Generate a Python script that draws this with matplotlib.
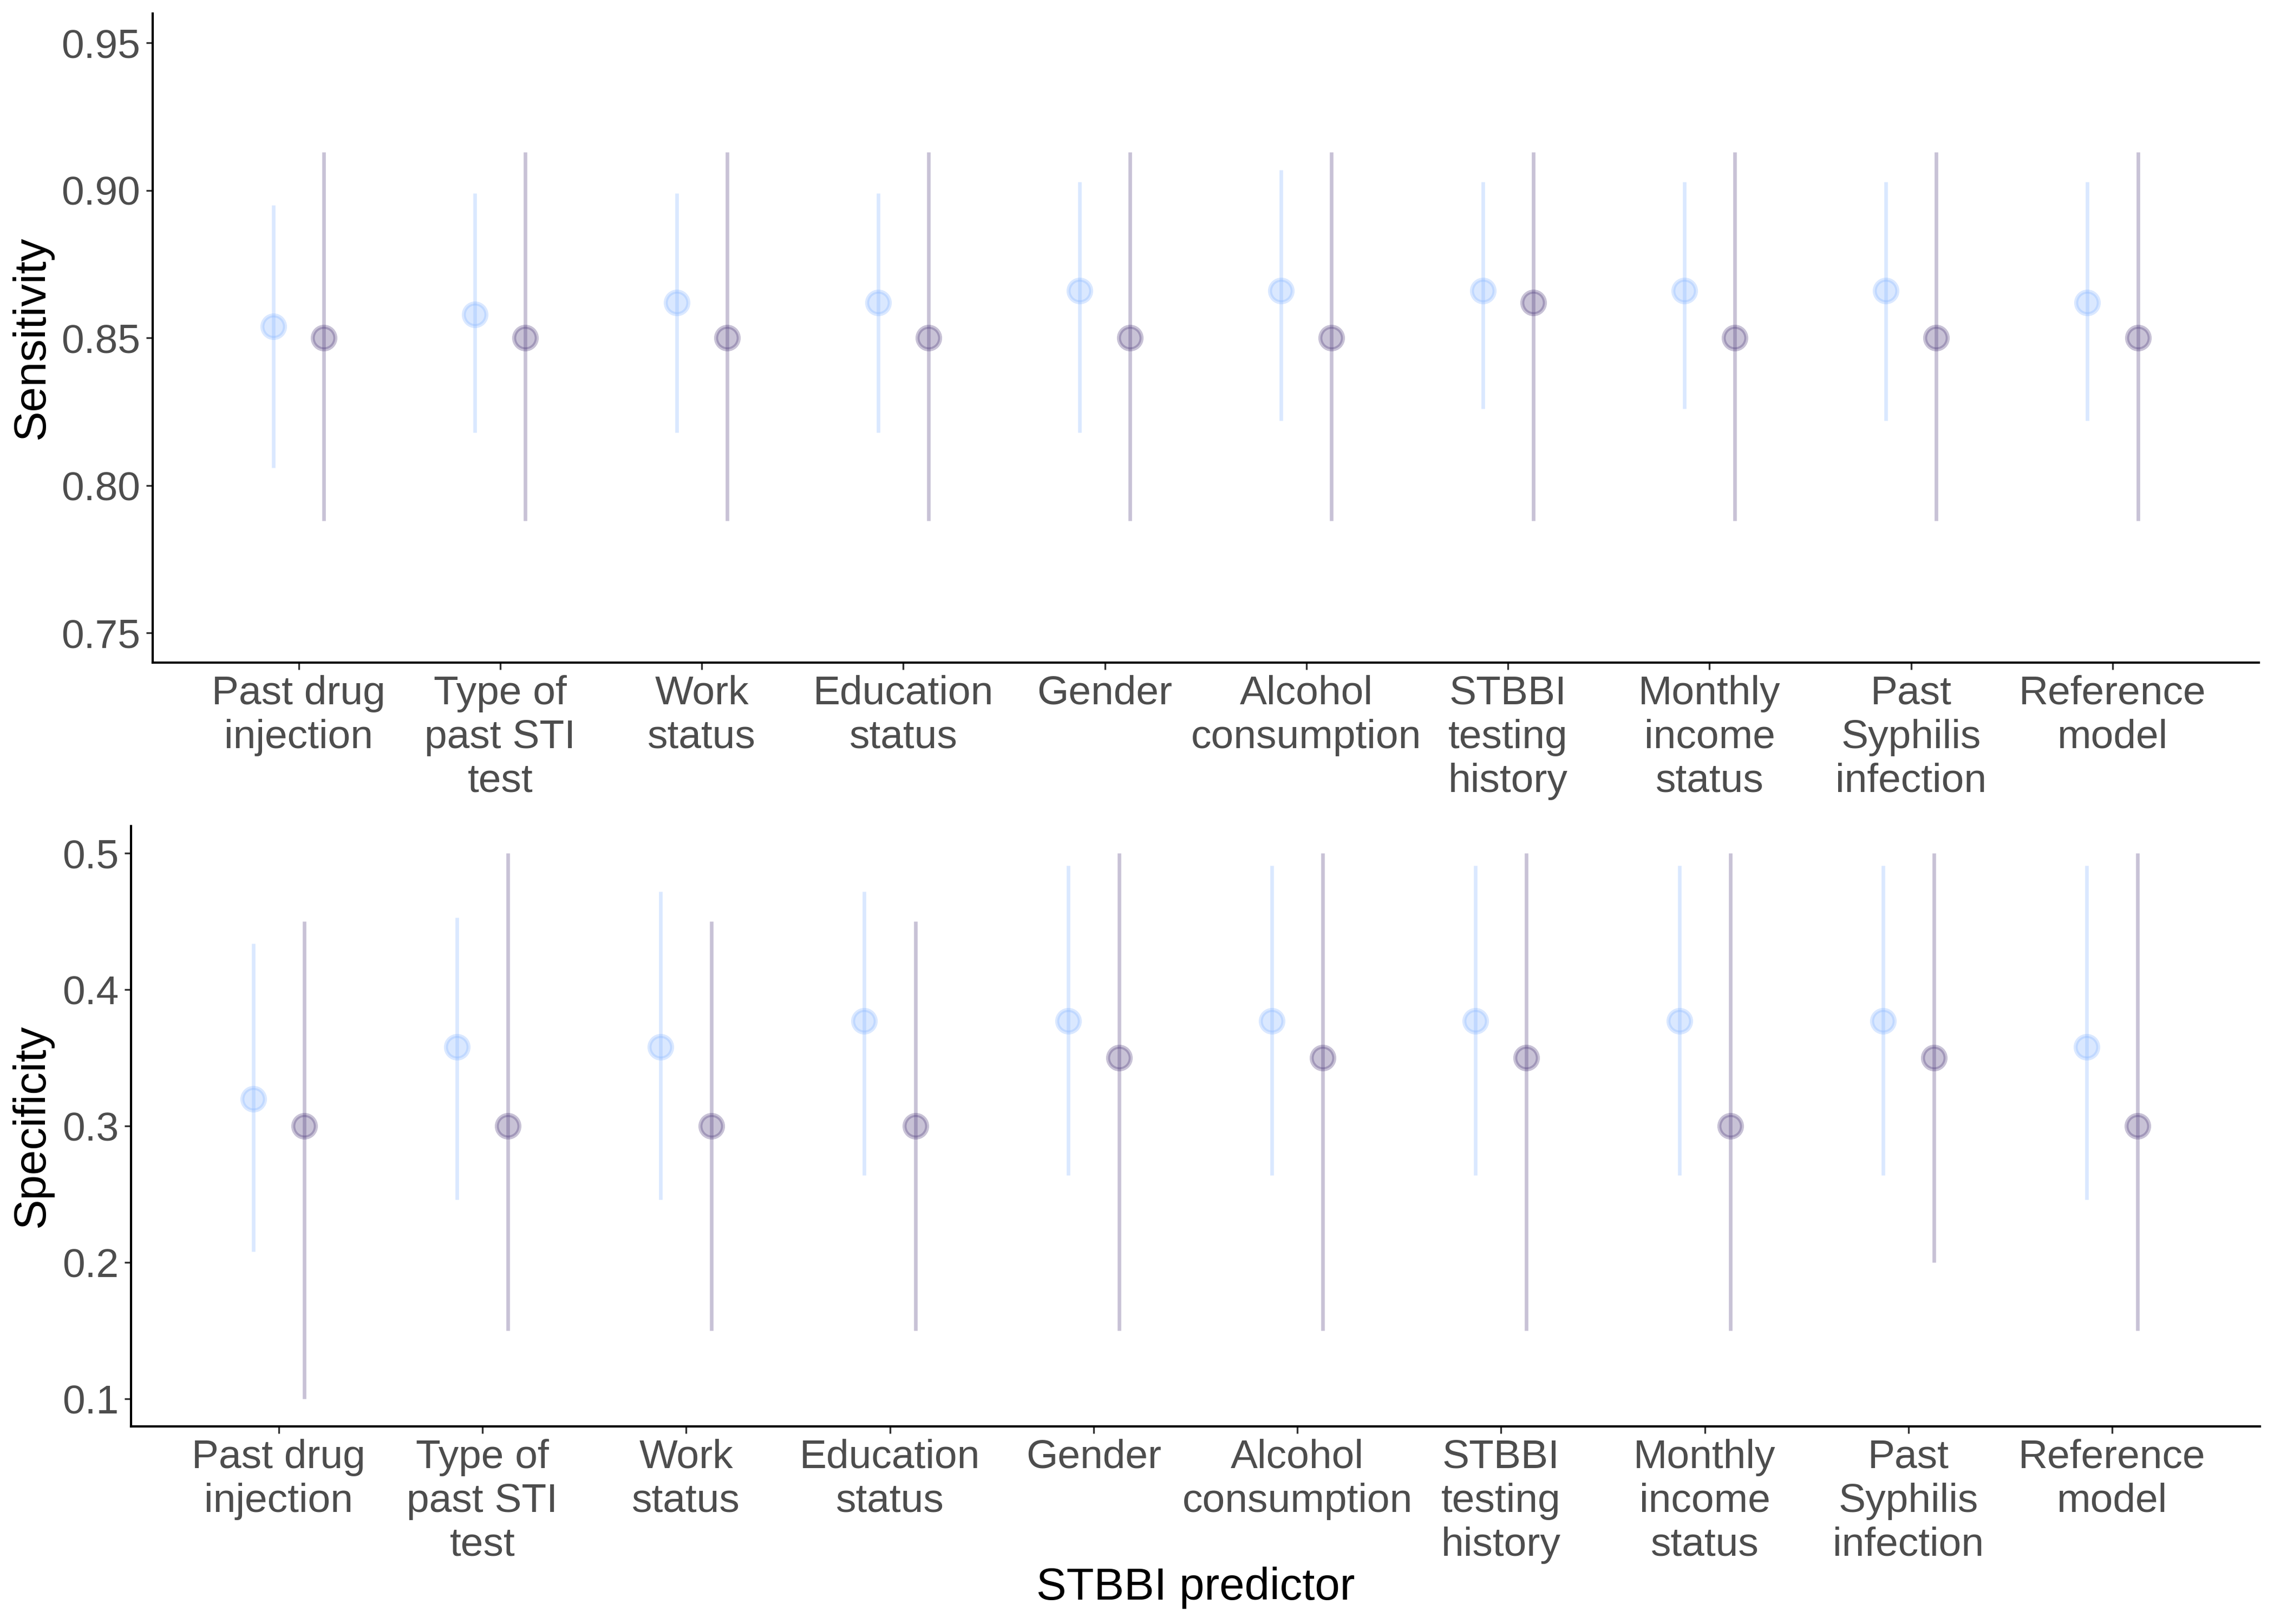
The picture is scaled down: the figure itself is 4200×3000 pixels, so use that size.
import numpy as np
import matplotlib
matplotlib.use("Agg")
import matplotlib.pyplot as plt
from matplotlib.ticker import FixedLocator, FormatStrFormatter

plt.rcParams['font.family'] = ['Liberation Sans', 'DejaVu Sans']

categories = ["Past drug\ninjection", "Type of\npast STI\ntest", "Work\nstatus",
              "Education\nstatus", "Gender", "Alcohol\nconsumption",
              "STBBI\ntesting\nhistory", "Monthly\nincome\nstatus",
              "Past\nSyphilis\ninfection", "Reference\nmodel"]

# Sensitivity - series A (light blue)
sens_a = [0.854, 0.858, 0.862, 0.862, 0.866, 0.866, 0.866, 0.866, 0.866, 0.862]
sens_a_lo = [0.806, 0.818, 0.818, 0.818, 0.818, 0.822, 0.826, 0.826, 0.822, 0.822]
sens_a_hi = [0.895, 0.899, 0.899, 0.899, 0.903, 0.907, 0.903, 0.903, 0.903, 0.903]
# Sensitivity - series B (purple)
sens_b = [0.850, 0.850, 0.850, 0.850, 0.850, 0.850, 0.862, 0.850, 0.850, 0.850]
sens_b_lo = [0.788] * 10
sens_b_hi = [0.913] * 10

# Specificity - series A (light blue)
spec_a = [0.320, 0.358, 0.358, 0.377, 0.377, 0.377, 0.377, 0.377, 0.377, 0.358]
spec_a_lo = [0.208, 0.246, 0.246, 0.264, 0.264, 0.264, 0.264, 0.264, 0.264, 0.246]
spec_a_hi = [0.434, 0.453, 0.472, 0.472, 0.491, 0.491, 0.491, 0.491, 0.491, 0.491]
# Specificity - series B (purple)
spec_b = [0.30, 0.30, 0.30, 0.30, 0.35, 0.35, 0.35, 0.30, 0.35, 0.30]
spec_b_lo = [0.10, 0.15, 0.15, 0.15, 0.15, 0.15, 0.15, 0.15, 0.20, 0.15]
spec_b_hi = [0.45, 0.50, 0.45, 0.45, 0.50, 0.50, 0.50, 0.50, 0.50, 0.50]

sens_ticks = [0.75, 0.80, 0.85, 0.90, 0.95]
spec_ticks = [0.1, 0.2, 0.3, 0.4, 0.5]

col_a = "#87b5ff"
col_b = "#4a3578"
alpha = 0.3
dodge = 0.125

fig = plt.figure(figsize=(14, 10), dpi=300)
pos1 = [0.0671, 0.592, 0.9262, 0.3997]
pos2 = [0.0576, 0.1217, 0.9362, 0.3697]
ax1 = fig.add_axes(pos1)
ax2 = fig.add_axes(pos2)

def panel(ax, pos, a, alo, ahi, b, blo, bhi, ylim, ticks, fmt, ylabel):
    x = np.arange(1, len(categories) + 1)
    for xs, v, lo, hi, c in [(x - dodge, a, alo, ahi, col_a), (x + dodge, b, blo, bhi, col_b)]:
        ax.vlines(xs, lo, hi, colors=c, alpha=alpha, linewidth=1.6)
        ax.plot(xs, v, linestyle='none', marker='o', markersize=10,
                markerfacecolor=c, markeredgecolor=c, markeredgewidth=1.8, alpha=alpha)
    ax.set_xlim(1 - 0.725, len(categories) + 0.725)
    ax.set_ylim(*ylim)
    ax.set_xticks(x)
    ax.set_xticklabels(categories, fontsize=18, color="#4d4d4d", linespacing=1.22)
    ax.yaxis.set_major_locator(FixedLocator(ticks))
    ax.yaxis.set_major_formatter(FormatStrFormatter(fmt))
    ax.tick_params(axis='both', length=3, width=0.8, color="#333333", pad=2.5)
    ax.tick_params(axis='y', labelsize=18, labelcolor="#4d4d4d")
    for s in ['top', 'right']:
        ax.spines[s].set_visible(False)
    for s in ['left', 'bottom']:
        ax.spines[s].set_linewidth(1.0)
        ax.spines[s].set_color("black")
    ax.set_ylabel(ylabel, fontsize=20, color="black")
    ax.yaxis.set_label_coords(0.014, pos[1] + pos[3] / 2, transform=fig.transFigure)
    ax.yaxis.label.set_verticalalignment('center')

panel(ax1, pos1, sens_a, sens_a_lo, sens_a_hi, sens_b, sens_b_lo, sens_b_hi,
      (0.74, 0.96), sens_ticks, '%.2f', "Sensitivity")
panel(ax2, pos2, spec_a, spec_a_lo, spec_a_hi, spec_b, spec_b_lo, spec_b_hi,
      (0.08, 0.52), spec_ticks, '%.1f', "Specificity")

fig.text(0.5257, 0.0223, "STBBI predictor", fontsize=20, color="black",
         ha='center', va='center')

fig.savefig("out.png", dpi=300, facecolor="white")
